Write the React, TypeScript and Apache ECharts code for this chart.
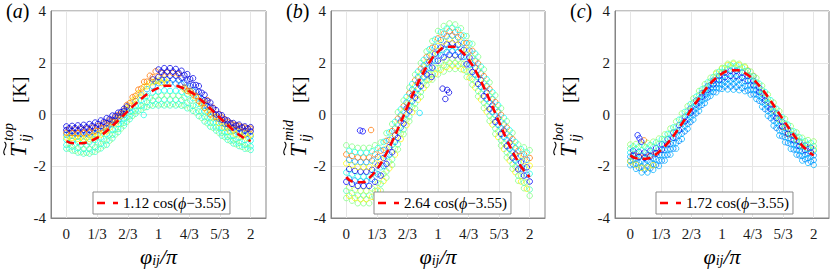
import React, { useEffect, useRef } from 'react';
import * as echarts from 'echarts';

const SERIF = '"Liberation Serif", "Times New Roman", serif';

// x positions of the scatter rows (in units of pi): 33-value rows use G16, 32-value rows use G16H
const G16 = [0, 0.0625, 0.125, 0.1875, 0.25, 0.3125, 0.375, 0.4375, 0.5, 0.5625, 0.625, 0.6875, 0.75, 0.8125, 0.875, 0.9375, 1, 1.0625, 1.125, 1.1875, 1.25, 1.3125, 1.375, 1.4375, 1.5, 1.5625, 1.625, 1.6875, 1.75, 1.8125, 1.875, 1.9375, 2];
const G16H = [0.0313, 0.0938, 0.1563, 0.2188, 0.2813, 0.3438, 0.4063, 0.4688, 0.5313, 0.5938, 0.6563, 0.7188, 0.7813, 0.8438, 0.9063, 0.9688, 1.0313, 1.0938, 1.1563, 1.2188, 1.2813, 1.3438, 1.4063, 1.4688, 1.5313, 1.5938, 1.6563, 1.7188, 1.7813, 1.8438, 1.9063, 1.9688];
const X_FIT = [0, 0.0833, 0.1667, 0.25, 0.3333, 0.4167, 0.5, 0.5833, 0.6667, 0.75, 0.8333, 0.9167, 1, 1.0833, 1.1667, 1.25, 1.3333, 1.4167, 1.5, 1.5833, 1.6667, 1.75, 1.8333, 1.9167, 2];

const X_TICKS = [0, 1 / 3, 2 / 3, 1, 4 / 3, 5 / 3, 2];
const X_TICK_LABELS = ['0', '1/3', '2/3', '1', '4/3', '5/3', '2'];

// dashed red fitted curves
const FIT_TOP = [-1.03, -1.11, -1.11, -1.04, -0.90, -0.70, -0.44, -0.16, 0.13, 0.41, 0.67, 0.88, 1.03, 1.11, 1.11, 1.04, 0.90, 0.70, 0.44, 0.16, -0.13, -0.41, -0.67, -0.88, -1.03];
const FIT_MID = [-2.42, -2.61, -2.62, -2.45, -2.12, -1.64, -1.05, -0.39, 0.30, 0.97, 1.57, 2.07, 2.42, 2.61, 2.62, 2.45, 2.12, 1.64, 1.05, 0.39, -0.30, -0.97, -1.57, -2.07, -2.42];
const FIT_BOT = [-1.58, -1.70, -1.71, -1.60, -1.38, -1.07, -0.68, -0.25, 0.20, 0.63, 1.03, 1.35, 1.58, 1.70, 1.71, 1.60, 1.38, 1.07, 0.68, 0.25, -0.20, -0.63, -1.03, -1.35, -1.58];
const FIT_NAMES = ['1.12 cos(ϕ−3.55)', '2.64 cos(ϕ−3.55)', '1.72 cos(ϕ−3.55)'];

// panel (a) scatter rows, drawn in this order; colour value on the jet scale
const TOP_ROWS: (number | null)[][] = [
  [-1.32, -1.39, -1.47, -1.51, -1.51, -1.44, -1.31, -1.17, -0.92, -0.68, -0.43, -0.18, 0.03, 0.18, 0.29, 0.34, 0.35, 0.35, 0.35, 0.35, 0.34, 0.24, 0.14, -0.06, -0.27, -0.47, -0.62, -0.82, -0.98, -1.12, -1.22, -1.32, -1.37],
  [-1.32, -1.4, -1.46, -1.48, -1.44, -1.35, -1.2, -1.01, -0.77, -0.54, -0.28, -0.05, 0.14, 0.27, 0.36, 0.4, 0.4, 0.39, 0.4, 0.4, 0.35, 0.24, 0.08, -0.13, -0.34, -0.51, -0.7, -0.87, -1.02, -1.15, -1.25, -1.32],
  [-1.18, -1.24, -1.3, -1.33, -1.33, -1.27, -1.14, -1.0, -0.78, -0.56, -0.32, -0.07, 0.15, 0.33, 0.47, 0.54, 0.57, 0.58, 0.58, 0.57, 0.56, 0.46, 0.34, 0.12, -0.1, -0.32, -0.5, -0.7, -0.86, -1.0, -1.09, -1.18, -1.23],
  [-1.11, -1.16, -1.2, -1.2, -1.17, -1.08, -0.95, -0.78, -0.58, -0.37, -0.12, 0.12, 0.34, 0.51, 0.64, 0.7, 0.73, 0.73, 0.73, 0.72, 0.65, 0.54, 0.36, 0.13, -0.11, -0.31, -0.51, -0.69, -0.84, -0.96, -1.05, -1.12],
  [-0.97, -1.02, -1.06, -1.06, -1.07, -0.98, -0.89, -0.75, -0.58, -0.37, -0.18, 0.11, 0.33, 0.56, 0.72, 0.85, 0.89, 0.93, 0.91, 0.92, 0.87, 0.78, 0.63, 0.41, 0.13, -0.11, -0.3, -0.52, -0.67, -0.82, -0.88, -0.99, -1.01],
  [-0.78, -0.82, -0.84, -0.82, -0.8, -0.76, -0.64, -0.55, -0.37, -0.23, -0.02, 0.24, 0.52, 0.74, 0.98, 1.1, 1.21, 1.24, 1.22, 1.2, 1.18, 1.04, 0.9, 0.66, 0.35, 0.11, -0.15, -0.33, -0.53, -0.63, -0.72, -0.78, -0.84],
  [-0.72, -0.73, -0.74, -0.73, -0.68, -0.6, -0.5, -0.38, -0.23, -0.07, 0.17, null, null, null, null, 1.28, 1.34, 1.35, 1.35, 1.32, 1.23, 1.1, 0.88, 0.6, 0.31, 0.06, -0.17, -0.36, -0.51, -0.6, -0.68, -0.74],
  [-0.89, -0.91, -0.94, -0.95, -0.94, -0.87, -0.77, -0.65, -0.29, -0.14, 0.04, 0.33, 0.6, 0.85, 1.09, 1.25, 1.3, 1.35, null, null, null, null, null, null, 0.45, 0.18, -0.07, -0.27, -0.46, -0.58, -0.66, -0.74, -0.78],
  [-0.85, -0.87, -0.89, -0.88, -0.84, -0.76, -0.65, -0.51, -0.34, -0.05, 0.26, 0.54, 0.82, 1.08, 1.23, 1.3, 1.22, 1.23, null, null, 0.97, 0.85, 0.65, 0.39, 0.12, -0.11, -0.33, -0.51, -0.66, -0.77, -0.85, -0.9],
  [-0.7, -0.71, -0.72, -0.71, -0.69, -0.63, -0.53, -0.43, -0.29, -0.02, 0.15, 0.44, 0.72, 1.0, 1.27, 1.45, null, null, null, null, null, 0.91, 0.77, 0.52, 0.25, 0.0, -0.1, -0.12, -0.28, -0.39, -0.44, -0.51, -0.55],
  [-0.6, -0.64, -0.62, -0.6, -0.6, -0.52, -0.45, -0.33, -0.22, -0.07, 0.12, null, null, null, null, 1.36, 1.45, 1.53, 1.5, 1.5, 1.42, 1.32, 1.14, 0.88, 0.55, 0.3, 0.0, -0.2, -0.37, -0.5, -0.54, -0.63, -0.65],
  [-0.58, -0.58, -0.57, -0.55, -0.51, -0.44, -0.34, -0.23, -0.11, 0.04, 0.37, 0.67, 0.96, 1.26, 1.5, 1.67, 1.6, 1.62, 1.6, 1.56, 1.04, 0.91, 0.72, 0.45, 0.55, 0.26, 0.02, -0.18, -0.33, -0.41, -0.48, -0.53],
  [-0.53, -0.52, -0.5, -0.49, -0.44, -0.36, -0.28, -0.17, -0.05, 0.09, 0.31, null, null, null, null, null, 1.65, 1.66, 1.66, 1.61, 1.52, 1.37, 1.14, 0.84, 0.52, 0.24, 0.0, -0.2, -0.35, -0.43, -0.5, -0.55],
  [-0.46, -0.44, -0.42, -0.4, -0.37, -0.31, -0.23, -0.14, -0.04, 0.07, 0.22, null, null, null, null, null, 1.74, 1.79, 1.79, 1.76, 1.69, 1.56, 1.4, 1.1, 0.76, 0.46, 0.17, -0.03, -0.23, -0.33, -0.39, -0.46, -0.49],
];
const TOP_ROW_COLORS = [0.42, 0.5, 0.4, 0.5, 0.38, 0.3, 0.2, 0.64, 0.64, 0.76, 0.1, 0.76, 0.1, 0.1];
const TOP_OUTLIERS = [[0.84, -0.02, 0.4]];

// panel (b)
const MID_ROWS: (number | null)[][] = [
  [-3.23, -3.33, -3.43, -3.43, -3.43, -3.23, -2.94, -2.44, -1.95, -1.35, -0.76, -0.26, 0.24, 0.69, 1.14, 1.35, 1.55, 1.66, 1.76, 1.76, 1.75, 1.45, 1.15, 0.7, 0.25, -0.25, -0.75, -1.2, -1.66, -2.1, -2.56, -2.85, -3.14],
  [-3.14, -3.23, -3.27, -3.27, -3.18, -2.94, -2.57, -2.08, -1.55, -0.95, -0.41, 0.09, 0.57, 1.02, 1.35, 1.57, 1.73, 1.84, 1.89, 1.88, 1.72, 1.42, 1.04, 0.58, 0.11, -0.39, -0.87, -1.33, -1.78, -2.23, -2.59, -2.87],
  [-2.95, -3.04, -3.13, -3.13, -3.13, -2.95, -2.68, -2.2, -1.73, -1.15, -0.58, -0.08, 0.42, 0.87, 1.32, 1.56, 1.79, 1.9, 2.0, 2.0, 1.97, 1.67, 1.37, 0.91, 0.46, -0.04, -0.54, -1.0, -1.46, -1.91, -2.36, -2.63, -2.9],
  [-2.82, -2.91, -2.95, -2.95, -2.86, -2.65, -2.3, -1.83, -1.32, -0.74, -0.21, 0.29, 0.77, 1.22, 1.56, 1.81, 1.99, 2.11, 2.15, 2.13, 1.96, 1.66, 1.27, 0.81, 0.33, -0.17, -0.65, -1.11, -1.57, -2.02, -2.37, -2.62],
  [-2.6, -2.68, -2.76, -2.76, -2.76, -2.6, -2.36, -1.91, -1.46, -0.9, -0.35, 0.15, 0.65, 1.1, 1.55, 1.81, 2.08, 2.21, 2.31, 2.29, 2.24, 1.94, 1.64, 1.18, 0.71, 0.21, -0.29, -0.75, -1.22, -1.67, -2.12, -2.36, -2.59],
  [-2.47, -2.55, -2.58, -2.58, -2.5, -2.31, -1.99, -1.55, -1.06, -0.51, 0.01, 0.51, 0.99, 1.44, 1.8, 2.08, 2.29, 2.41, 2.45, 2.41, 2.23, 1.93, 1.54, 1.07, 0.59, 0.09, -0.4, -0.87, -1.33, -1.78, -2.11, -2.33],
  [-2.24, -2.32, -2.4, -2.4, -2.4, -2.24, -2.04, -1.61, -1.18, -0.66, -0.13, 0.37, 0.87, 1.32, 1.77, 2.07, 2.36, 2.51, 2.61, 2.59, 2.52, 2.22, 1.92, 1.44, 0.97, 0.47, -0.03, -0.51, -0.98, -1.43, -1.88, -2.08, -2.29],
  [-2.11, -2.18, -2.21, -2.21, -2.14, -1.97, -1.68, -1.26, -0.8, -0.27, 0.23, 0.73, 1.21, 1.66, 2.04, 2.35, 2.59, 2.71, 2.75, 2.7, 2.5, 2.2, 1.81, 1.33, 0.85, 0.35, -0.15, -0.62, -1.09, -1.54, -1.85, -2.04],
  [-1.89, -1.96, -2.03, -2.03, -2.03, -1.89, -1.72, -1.32, -0.91, -0.41, 0.1, 0.6, 1.1, 1.55, 2.0, 2.32, 2.65, 2.82, 2.92, 2.88, 2.79, 2.49, 2.19, 1.71, 1.22, 0.72, 0.22, -0.26, -0.74, -1.19, -1.64, -1.81, -1.98],
  [-1.75, -1.82, -1.84, -1.84, -1.78, -1.64, -1.37, -0.98, -0.54, -0.03, 0.46, 0.96, 1.44, 1.89, 2.28, 2.62, 2.88, 3.02, 3.05, 2.98, 2.77, 2.47, 2.08, 1.59, 1.1, 0.6, 0.11, -0.38, -0.85, -1.3, -1.6, -1.75],
  [-1.54, -1.6, -1.66, -1.66, -1.66, -1.54, -1.4, -1.02, -0.64, -0.16, 0.32, 0.82, 1.32, 1.77, 2.22, 2.58, 2.94, 3.12, 3.22, 3.18, 3.06, 2.76, 2.46, 1.97, 1.48, 0.98, 0.48, -0.01, -0.5, -0.95, -1.4, -1.54, -1.68],
  [-1.4, -1.45, -1.48, -1.48, -1.42, -1.3, -1.06, -0.69, -0.28, 0.2, 0.68, 1.18, 1.66, 2.11, 2.52, 2.9, 3.18, 3.32, 3.35, 3.27, 3.05, 2.75, 2.35, 1.85, 1.36, 0.86, 0.36, -0.13, -0.61, -1.06, -1.34, -1.47],
  [-1.19, -1.24, -1.29, -1.29, -1.29, -1.19, -1.08, -0.72, -0.37, 0.09, 0.54, 1.04, 1.54, 1.99, 2.44, 2.84, 3.23, 3.42, 3.52, 3.48, 3.33, 3.03, 2.73, 2.23, 1.74, 1.24, 0.74, 0.24, -0.26, -0.71, -1.16, -1.27, -1.38],
];
const MID_ROW_COLORS = [0.5, 0.64, 0.45, 0.55, 0.12, 0.25, 0.4, 0.1, 0.62, 0.28, 0.76, 0.38, 0.5];
const MID_OUTLIERS = [
  [0.15, -0.62, 0.12], [0.18, -0.65, 0.12], [0.27, -0.6, 0.76], [0.8, 0.06, 0.35],
  [1.05, 1.0, 0.1], [1.1, 0.95, 0.1], [1.12, 0.85, 0.1], [1.08, 0.6, 0.1], [0.93, 1.45, 0.12],
];

// panel (c)
const BOT_ROWS: (number | null)[][] = [
  [-1.96, -2.1, -2.24, -2.24, -2.14, -1.99, -1.78, -1.55, -1.32, -0.95, -0.55, -0.2, 0.14, 0.44, 0.72, 0.86, 0.99, 0.97, 0.96, 0.94, 0.9, 0.77, 0.6, 0.3, -0.05, -0.43, -0.81, -1.07, -1.33, -1.55, -1.78, -1.87, -1.95],
  [-1.93, -2.06, -2.13, -2.08, -1.95, -1.78, -1.56, -1.32, -1.02, -0.65, -0.29, 0.05, 0.37, 0.66, 0.87, 1.01, 1.08, 1.08, 1.06, 1.02, 0.93, 0.78, 0.53, 0.21, -0.14, -0.52, -0.84, -1.1, -1.35, -1.58, -1.73, -1.82],
  [-1.79, -1.9, -2.02, -2.0, -1.91, -1.77, -1.57, -1.34, -1.1, -0.74, -0.37, -0.03, 0.3, 0.59, 0.86, 1.02, 1.16, 1.18, 1.18, 1.15, 1.1, 0.96, 0.77, 0.47, 0.13, -0.24, -0.61, -0.88, -1.15, -1.37, -1.6, -1.69, -1.76],
  [-1.75, -1.85, -1.9, -1.84, -1.73, -1.56, -1.35, -1.11, -0.81, -0.45, -0.11, 0.22, 0.53, 0.81, 1.02, 1.18, 1.27, 1.29, 1.28, 1.23, 1.13, 0.96, 0.71, 0.39, 0.04, -0.33, -0.65, -0.92, -1.16, -1.39, -1.55, -1.63],
  [-1.63, -1.71, -1.8, -1.78, -1.7, -1.56, -1.37, -1.14, -0.89, -0.55, -0.2, 0.13, 0.45, 0.74, 1.0, 1.17, 1.32, 1.37, 1.38, 1.35, 1.29, 1.13, 0.93, 0.63, 0.29, -0.07, -0.43, -0.7, -0.97, -1.2, -1.42, -1.51, -1.58],
  [-1.82, -1.94, -2.06, -2.05, -1.96, null, null, null, null, null, null, null, null, null, null, 1.58, 1.77, 1.91, 1.96, 1.91, 1.82, null, null, 0.83, 0.49, 0.16, -0.19, -0.48, -0.75, -0.98, -1.2, -1.29, -1.35],
  [-1.55, -1.61, -1.64, -1.58, -1.48, null, null, null, null, null, null, null, null, null, null, null, null, null, null, null, 1.7, 1.49, null, null, null, null, -0.48, -0.76, null, null, null, null],
  [-1.58, -1.65, -1.68, -1.62, -1.51, -1.36, -1.15, -0.9, -0.61, -0.27, 0.06, 0.38, 0.68, 0.95, 1.17, 1.33, 1.44, 1.49, 1.48, 1.43, 1.31, 1.13, 0.87, 0.55, 0.21, -0.14, -0.46, -0.74, -0.99, -1.22, -1.38, -1.46],
  [-1.47, -1.52, -1.59, -1.55, -1.48, -1.35, -1.17, -0.94, -0.68, -0.35, -0.02, 0.3, 0.6, 0.88, 1.14, 1.32, 1.48, 1.57, 1.59, 1.55, 1.48, 1.31, 1.09, 0.79, 0.45, 0.11, -0.24, -0.53, -0.8, -1.03, -1.25, -1.34, -1.4],
  [-1.4, -1.45, -1.46, -1.4, -1.3, -1.15, -0.95, -0.7, -0.41, -0.09, 0.23, 0.54, 0.82, 1.09, 1.31, 1.49, 1.62, 1.69, 1.69, 1.62, 1.49, 1.3, 1.03, 0.71, 0.38, 0.04, -0.28, -0.56, -0.82, -1.05, -1.2, -1.28],
  [-1.31, -1.33, -1.38, -1.33, -1.26, -1.14, -0.97, -0.74, -0.48, -0.16, 0.15, 0.46, 0.76, 1.02, 1.28, 1.47, 1.64, 1.76, 1.8, 1.75, 1.67, 1.48, 1.25, 0.95, 0.61, 0.28, -0.06, -0.35, -0.62, -0.86, -1.07, -1.16, -1.22],
  [-1.23, -1.24, -1.24, -1.18, -1.08, -0.95, -0.75, -0.5, -0.2, 0.1, 0.4, 0.69, 0.97, 1.24, 1.45, 1.65, 1.8, 1.9, 1.89, 1.82, 1.68, 1.47, 1.19, 0.87, 0.55, 0.22, -0.1, -0.39, -0.65, -0.88, -1.03, -1.1],
  [-1.16, -1.14, -1.17, -1.1, -1.05, -0.93, -0.77, -0.54, -0.27, 0.04, 0.32, 0.62, 0.91, 1.17, 1.42, 1.62, 1.8, 1.96, 2.0, 1.96, 1.86, 1.66, 1.41, 1.11, 0.77, 0.46, 0.13, -0.17, -0.45, -0.69, -0.9, -0.99, -1.04],
];
const BOT_ROW_COLORS = [0.3, 0.25, 0.28, 0.3, 0.28, 0.64, 0.76, 0.1, 0.35, 0.12, 0.45, 0.4, 0.52];
const BOT_OUTLIERS = [[0.08, -0.8, 0.15], [0.1, -0.92, 0.15], [0.15, -1.0, 0.75], [0.12, -1.05, 0.12]];

const PANEL_LETTERS = ['a', 'b', 'c'];
const PANEL_SUPERS = ['top', 'mid', 'bot'];

// layout
const GRID_LEFT = [51, 331, 615];
const GRID_WIDTH = [215, 214, 214];
const GRID_TOP = 11;
const GRID_HEIGHT = 207;
const LETTER_LEFT = [6, 286, 570];
const YLABEL_BASE_X = [25, 305, 575];
const LEGEND_LEFT = [93, 374, 656];

function jet(c: number): string {
  const cl = (v: number) => Math.max(0, Math.min(1, v));
  const r = cl(1.5 - Math.abs(4 * c - 3));
  const g = cl(1.5 - Math.abs(4 * c - 2));
  const b = cl(1.5 - Math.abs(4 * c - 1));
  return `rgb(${Math.round(r * 255)},${Math.round(g * 255)},${Math.round(b * 255)})`;
}

function rowSeries(rows: (number | null)[][], colors: number[], axis: number) {
  return rows.map((ys, r) => {
    const xs = ys.length === G16.length ? G16 : G16H;
    const data: number[][] = [];
    ys.forEach((y, j) => {
      if (y !== null) data.push([xs[j], y]);
    });
    return {
      type: 'scatter',
      xAxisIndex: axis,
      yAxisIndex: axis,
      symbol: 'circle',
      symbolSize: 5.5,
      silent: true,
      z: 2,
      itemStyle: { color: 'rgba(0,0,0,0)', borderColor: jet(colors[r]), borderWidth: 0.85, opacity: 0.9 },
      data,
    };
  });
}

function outlierSeries(pts: number[][], axis: number) {
  return {
    type: 'scatter',
    xAxisIndex: axis,
    yAxisIndex: axis,
    symbol: 'circle',
    symbolSize: 5.5,
    silent: true,
    z: 2,
    data: pts.map((p) => ({
      value: [p[0], p[1]],
      itemStyle: { color: 'rgba(0,0,0,0)', borderColor: jet(p[2]), borderWidth: 0.85, opacity: 0.9 },
    })),
  };
}

function yLabelGroup(i: number) {
  const txt = (text: string, x: number, y: number, font: string) => ({
    type: 'text',
    x,
    y,
    style: {
      text,
      font,
      fill: '#000',
      textAlign: 'left',
      align: 'left',
      textVerticalAlign: 'middle',
      verticalAlign: 'middle',
    },
  });
  return {
    type: 'group',
    x: YLABEL_BASE_X[i],
    y: 157,
    rotation: Math.PI / 2,
    children: [
      txt('T', 0, -7, `italic 23px ${SERIF}`),
      {
        type: 'bezierCurve',
        shape: { x1: 2, y1: -20, cpx1: 6.5, cpy1: -25, cpx2: 10.5, cpy2: -15, x2: 15, y2: -20.5 },
        style: { stroke: '#000', lineWidth: 1.1, fill: 'none' },
      },
      txt('ij', 15, 0, `italic 14px ${SERIF}`),
      txt(PANEL_SUPERS[i], 16, -17, `italic 14px ${SERIF}`),
      txt('[K]', 54, -6, `19px ${SERIF}`),
    ],
  };
}

export default function App() {
  const ref = useRef<HTMLDivElement>(null);
  useEffect(() => {
    if (!ref.current) return;
    const chart = echarts.init(ref.current, undefined, { renderer: 'svg' });
    const fits = [FIT_TOP, FIT_MID, FIT_BOT];
    const rows = [TOP_ROWS, MID_ROWS, BOT_ROWS];
    const rowColors = [TOP_ROW_COLORS, MID_ROW_COLORS, BOT_ROW_COLORS];
    const outliers = [TOP_OUTLIERS, MID_OUTLIERS, BOT_OUTLIERS];

    const series: any[] = [];
    for (let i = 0; i < 3; i++) {
      series.push(...rowSeries(rows[i], rowColors[i], i));
      series.push(outlierSeries(outliers[i], i));
      series.push({
        type: 'line',
        name: FIT_NAMES[i],
        xAxisIndex: i,
        yAxisIndex: i,
        smooth: true,
        symbol: 'none',
        showSymbol: false,
        silent: true,
        z: 5,
        itemStyle: { color: '#ff0000' },
        lineStyle: { color: '#ff0000', width: 2.6, type: [8, 5] },
        data: X_FIT.map((x, j) => [x, fits[i][j]]),
      });
    }

    const xLabelFmt = (v: number) => {
      const k = X_TICKS.findIndex((t) => Math.abs(t - v) < 1e-6);
      return k >= 0 ? X_TICK_LABELS[k] : '';
    };

    const option: any = {
      animation: false,
      backgroundColor: '#fff',
      title: PANEL_LETTERS.map((l, i) => ({
        text: `({i|${l}})`,
        left: LETTER_LEFT[i],
        top: 1,
        padding: 0,
        textStyle: {
          fontFamily: SERIF,
          fontSize: 20,
          fontWeight: 'normal',
          color: '#000',
          rich: { i: { fontFamily: SERIF, fontSize: 20, fontStyle: 'italic', color: '#000' } },
        },
      })),
      grid: GRID_LEFT.map((l, i) => ({
        left: l,
        top: GRID_TOP,
        width: GRID_WIDTH[i],
        height: GRID_HEIGHT,
        containLabel: false,
        outerBoundsMode: 'none',
        show: true,
        borderColor: '#858585',
        borderWidth: 1,
        backgroundColor: 'rgba(0,0,0,0)',
      })),
      xAxis: [0, 1, 2].map((i) => ({
        type: 'value',
        gridIndex: i,
        min: -1 / 6,
        max: 13 / 6,
        axisLine: { show: true, onZero: false, lineStyle: { color: '#858585', width: 1 } },
        axisTick: { show: false, customValues: X_TICKS },
        axisLabel: {
          customValues: X_TICKS,
          formatter: xLabelFmt,
          color: '#1a1a1a',
          fontFamily: SERIF,
          fontSize: 15,
          margin: 8,
        },
        splitLine: { show: true, lineStyle: { color: '#e6e6e6', width: 1 } },
        name: '{p|φ}{s|ij}{p|/π}',
        nameLocation: 'middle',
        nameGap: 19,
        nameTextStyle: {
          rich: {
            p: { fontFamily: SERIF, fontSize: 22, fontStyle: 'italic', color: '#000', lineHeight: 22 },
            s: { fontFamily: SERIF, fontSize: 14, fontStyle: 'italic', color: '#000', lineHeight: 12, verticalAlign: 'bottom' },
          },
        },
      })),
      yAxis: [0, 1, 2].map((i) => ({
        type: 'value',
        gridIndex: i,
        min: -4,
        max: 4,
        interval: 2,
        axisLine: { show: true, onZero: false, lineStyle: { color: '#858585', width: 1 } },
        axisTick: { show: false },
        axisLabel: { color: '#1a1a1a', fontFamily: SERIF, fontSize: 15, margin: 5 },
        splitLine: { show: true, lineStyle: { color: '#e6e6e6', width: 1 } },
      })),
      legend: FIT_NAMES.map((n, i) => ({
        data: [n],
        left: LEGEND_LEFT[i],
        top: 192,
        orient: 'horizontal',
        selectedMode: false,
        backgroundColor: '#fff',
        borderColor: '#8a8a8a',
        borderWidth: 1,
        borderRadius: 0,
        padding: [3, 4, 3, 4],
        icon: 'path://M0,0h8v2.6H0z M16,0h5v2.6h-5z',
        itemWidth: 21,
        itemHeight: 2.6,
        itemStyle: { color: '#ff0000', borderWidth: 0 },
        formatter: (name: string) => name.replace('ϕ', '{i|ϕ}'),
        textStyle: {
          fontFamily: SERIF,
          fontSize: 15,
          color: '#000',
          rich: { i: { fontFamily: SERIF, fontSize: 16, fontStyle: 'italic', color: '#000' } },
        },
      })),
      graphic: [0, 1, 2].map((i) => yLabelGroup(i)),
      series,
    };
    chart.setOption(option);
    return () => chart.dispose();
  }, []);
  return <div ref={ref} style={{ position: 'absolute', left: 0, top: 0, width: 830, height: 269 }} />;
}
